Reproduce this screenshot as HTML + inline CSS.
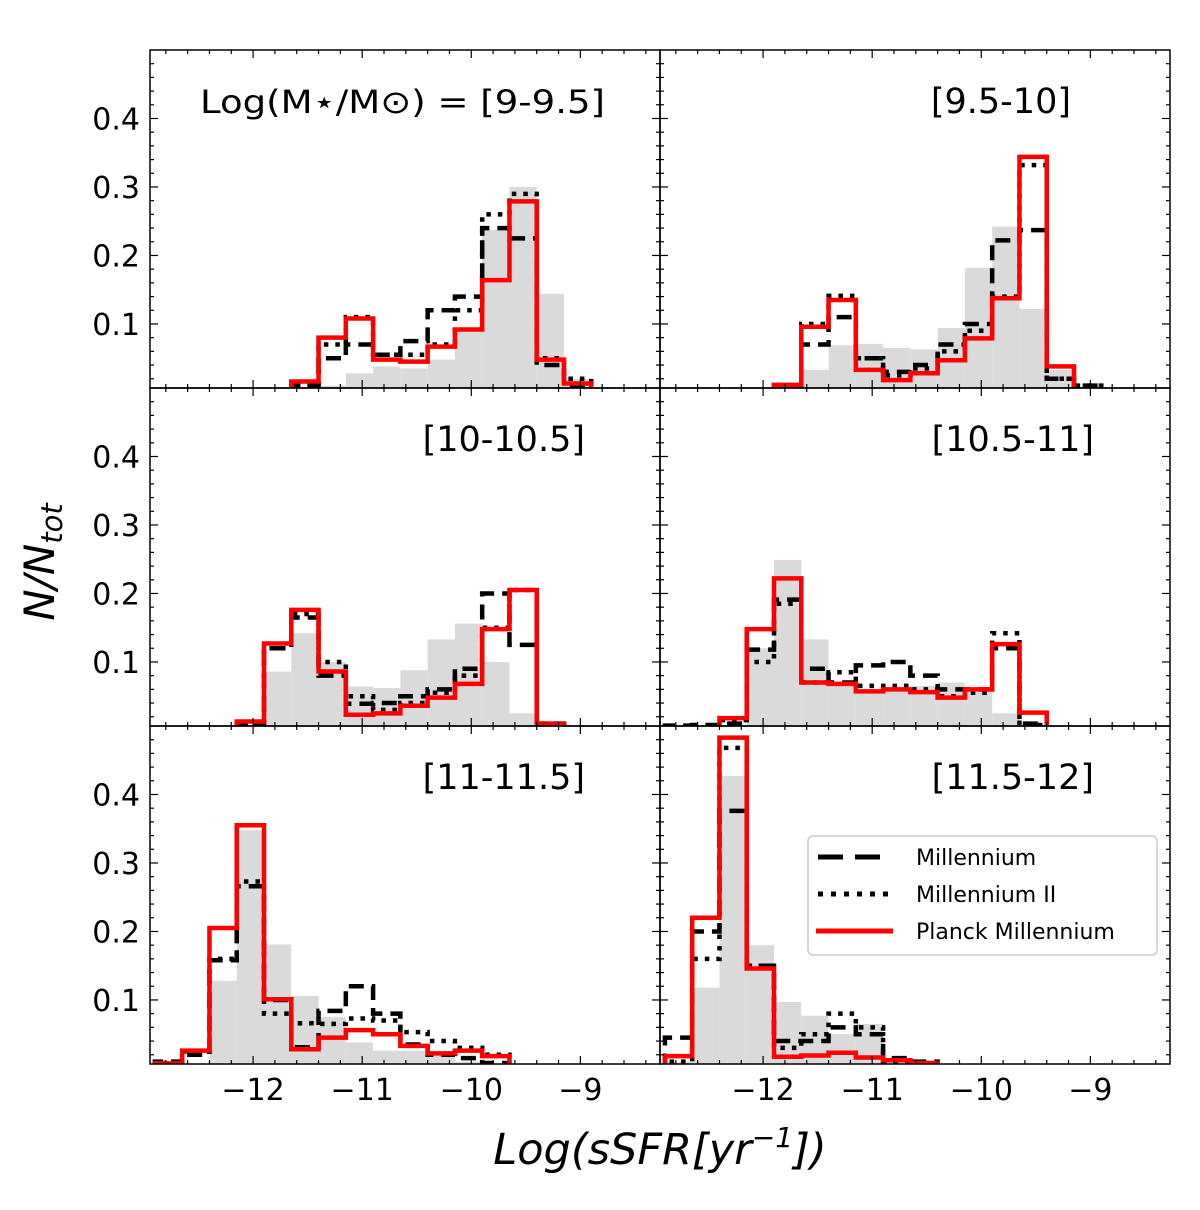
<!DOCTYPE html>
<html><head><meta charset="utf-8"><style>
html,body{margin:0;padding:0;background:#fff;}
svg{display:block;font-family:"DejaVu Sans","Liberation Sans",sans-serif;}
</style></head><body>
<svg id="chart" width="1200" height="1210" viewBox="0 0 1200 1210" xmlns="http://www.w3.org/2000/svg">
<defs id="defs"></defs>
<g id="panels"></g>
<text x="660" y="1164" font-size="43" font-style="italic" text-anchor="middle">Log(sSFR[yr<tspan font-size="28" dy="-17">−1</tspan><tspan dy="17">])</tspan></text>
<text transform="translate(54,562) rotate(-90)" font-size="42" font-style="italic" text-anchor="middle">N/N<tspan font-size="29" dy="8">tot</tspan></text>
<g>
<rect x="808" y="836" width="349" height="119" rx="5" fill="#fff" stroke="#ccc" stroke-width="1.5"/>
<line x1="818" y1="857" x2="890" y2="857" stroke="#000" stroke-width="5" stroke-dasharray="25,12"/>
<text x="916" y="865" font-size="22">Millennium</text>
<line x1="818" y1="894" x2="890" y2="894" stroke="#000" stroke-width="5" stroke-dasharray="5,8"/>
<text x="916" y="902" font-size="22">Millennium II</text>
<line x1="816" y1="931" x2="893" y2="931" stroke="#f00" stroke-width="5"/>
<text x="916" y="939" font-size="22">Planck Millennium</text>
</g>
</svg>
<script>
// bin edges: -12.9 + 0.25*k
const binStart = -12.9;
const binWidth = 0.25;
const panelLabels = ["Log(M⋆/M⊙) = [9-9.5]","[9.5-10]","[10-10.5]","[10.5-11]","[11-11.5]","[11.5-12]"];
const yTickLabels = ["0.1","0.2","0.3","0.4"];
const yTickValues = [0.1,0.2,0.3,0.4];
const xTickValues = [-12,-11,-10,-9];
const xTickLabels = ["−12","−11","−10","−9"];
// each array indexed by bin k = 0..15
const grayTL   = [0,0,0,0,0,0,0.01,0.028,0.038,0.035,0.048,0.09,0.237,0.30,0.144,0.02];
const dashTL   = [0,0,0,0,0,0.01,0.05,0.07,0.055,0.075,0.12,0.14,0.24,0.225,0.04,0.01];
const dotTL    = [0,0,0,0,0,0.01,0.07,0.11,0.055,0.055,0.07,0.12,0.26,0.29,0.05,0.02];
const redTL    = [0,0,0,0,0,0.016,0.08,0.108,0.048,0.045,0.067,0.092,0.164,0.279,0.048,0.013];
const grayTR   = [0,0,0,0,0,0.033,0.069,0.071,0.065,0.063,0.094,0.182,0.242,0.122,0.033,0];
const dashTR   = [0,0,0,0,0.01,0.07,0.11,0.05,0.03,0.04,0.07,0.10,0.222,0.237,0.02,0.01];
const dotTR    = [0,0,0,0,0.01,0.10,0.141,0.05,0.025,0.035,0.06,0.09,0.14,0.332,0.02,0.01];
const redTR    = [0,0,0,0,0.011,0.096,0.135,0.033,0.018,0.028,0.047,0.079,0.1375,0.344,0.038,0];
const grayML   = [0,0,0,0.005,0.086,0.142,0.10,0.064,0.062,0.088,0.133,0.156,0.10,0.025,0,0];
const dashML   = [0,0,0,0.01,0.12,0.165,0.08,0.039,0.04,0.05,0.06,0.09,0.20,0.125,0.01,0];
const dotML    = [0,0,0,0.007,0.12,0.17,0.10,0.05,0.03,0.04,0.055,0.08,0.15,0.205,0.01,0];
const redML    = [0,0,0,0.013,0.127,0.176,0.086,0.023,0.025,0.036,0.048,0.068,0.148,0.205,0.01,0];
const grayMR   = [0,0,0.005,0.12,0.249,0.133,0.067,0.06,0.058,0.065,0.07,0.06,0.025,0.007,0,0];
const dashMR   = [0.007,0.008,0.01,0.118,0.191,0.09,0.07,0.095,0.10,0.08,0.06,0.06,0.12,0.01,0,0];
const dotMR    = [0,0,0.015,0.10,0.185,0.07,0.085,0.065,0.065,0.06,0.05,0.055,0.142,0.008,0,0];
const redMR    = [0,0,0.018,0.148,0.222,0.07,0.068,0.057,0.06,0.056,0.048,0.06,0.126,0.026,0,0];
const grayBL   = [0,0,0.128,0.348,0.181,0.106,0.075,0.038,0.026,0.026,0.019,0.01,0,0,0,0];
const dashBL   = [0.01,0.02,0.158,0.266,0.10,0.031,0.084,0.12,0.08,0.035,0.02,0.015,0.008,0,0,0];
const dotBL    = [0.008,0.025,0.16,0.273,0.08,0.066,0.065,0.073,0.07,0.053,0.04,0.03,0.02,0,0,0];
const redBL    = [0.0075,0.026,0.205,0.355,0.101,0.028,0.045,0.056,0.05,0.033,0.022,0.026,0.018,0,0,0];
const grayBR   = [0.01,0.118,0.427,0.18,0.097,0.077,0.05,0.065,0.01,0.007,0,0,0,0,0,0];
const dashBR   = [0.045,0.20,0.376,0.15,0.04,0.04,0.06,0.05,0.015,0.01,0,0,0,0,0,0];
const dotBR    = [0.01,0.16,0.468,0.15,0.03,0.05,0.08,0.06,0.01,0.007,0,0,0,0,0,0];
const redBR    = [0.018,0.22,0.483,0.146,0.017,0.019,0.023,0.016,0.012,0.008,0,0,0,0,0,0];
const panelSeries = [
  [grayTL,dashTL,dotTL,redTL],[grayTR,dashTR,dotTR,redTR],
  [grayML,dashML,dotML,redML],[grayMR,dashMR,dotMR,redMR],
  [grayBL,dashBL,dotBL,redBL],[grayBR,dashBR,dotBR,redBR]];
const NS = "http://www.w3.org/2000/svg";
const colX = [150,660], rowY = [50,388,726], PW = 510, PH = 338;
const XMIN = -12.945, XMAX = -8.27, YMIN = 0.0065, YMAX = 0.5;
function mk(tag, attrs, parent){const e=document.createElementNS(NS,tag);for(const k in attrs)e.setAttribute(k,attrs[k]);parent.appendChild(e);return e;}
const root = document.getElementById('panels');
const defs = document.getElementById('defs');
for(let p=0;p<6;p++){
  const c=p%2, r=Math.floor(p/2), x0=colX[c], y0=rowY[r];
  const sx = v => x0 + (v-XMIN)/(XMAX-XMIN)*PW;
  const sy = v => y0 + PH - (v-YMIN)/(YMAX-YMIN)*PH;
  const g = mk('g',{},root);
  
  
  const cp = mk('clipPath',{id:'cp'+p},defs);
  mk('rect',{x:x0,y:y0,width:PW,height:PH},cp);
  const plot = mk('g',{'clip-path':'url(#cp'+p+')'},g);
  const [gray,dash,dot,red] = panelSeries[p];
  gray.forEach((v,k)=>{ if(v<=0) return;
    const a=binStart+k*binWidth, b=a+binWidth;
    const rc = mk('rect',{x:sx(a),y:sy(v),width:sx(b)-sx(a),height:sy(0)-sy(v),fill:'#dadada'},plot);
    
    
  });
  const stepPath = arr => {
    let first=arr.findIndex(v=>v>0), last=arr.length-1; while(last>=0&&arr[last]<=0) last--;
    let d='M'+sx(binStart+first*binWidth)+','+sy(0);
    for(let k=first;k<=last;k++){const a=binStart+k*binWidth,b=a+binWidth;d+=' L'+sx(a)+','+sy(arr[k])+' L'+sx(b)+','+sy(arr[k]);}
    d+=' L'+sx(binStart+(last+1)*binWidth)+','+sy(0);
    return d;
  };
  const pd = mk('path',{d:stepPath(dash),fill:'none',stroke:'#000','stroke-width':4.5,'stroke-dasharray':'15,8'},plot);
  
  
  const pt = mk('path',{d:stepPath(dot),fill:'none',stroke:'#000','stroke-width':4.5,'stroke-dasharray':'4.5,7'},plot);
  
  
  const pr = mk('path',{d:stepPath(red),fill:'none',stroke:'#f00','stroke-width':4.5,'stroke-linejoin':'miter'},plot);
  
  
  for(let v=0.02; v<0.5; v+=0.02){
    const major = Math.abs(v*10-Math.round(v*10))<1e-6; const L = major?8:4; const y=sy(v);
    mk('line',{x1:x0,y1:y,x2:x0+L,y2:y,stroke:'#000','stroke-width':1.2},g);
    mk('line',{x1:x0+PW,y1:y,x2:x0+PW-L,y2:y,stroke:'#000','stroke-width':1.2},g);
  }
  for(let i=0;i<=25;i++){
    const v=-12.8+i*0.2; if(v>XMAX) break;
    const major = Math.abs(v-Math.round(v))<1e-6; const L=major?8:4; const x=sx(v);
    mk('line',{x1:x,y1:y0+PH,x2:x,y2:y0+PH-L,stroke:'#000','stroke-width':1.2},g);
    mk('line',{x1:x,y1:y0,x2:x,y2:y0+L,stroke:'#000','stroke-width':1.2},g);
  }
  if(c===0){
    yTickValues.forEach((v,i)=>{
      const t=mk('text',{x:x0-10,y:sy(v)+11,'font-size':30,'text-anchor':'end'},g);
      
      
      t.textContent=yTickLabels[i];
    });
  }
  if(r===2){
    xTickValues.forEach((v,i)=>{
      const t=mk('text',{x:sx(v),y:y0+PH+36,'font-size':30,'text-anchor':'middle'},g);
      
      
      t.textContent=xTickLabels[i];
    });
  }
  const lbl = mk('text',{x:(p===0?605:(c===0?585:1094)),y:y0+63,'font-size':35,'text-anchor':'end'},g);
  
  
  if(p===1){lbl.setAttribute('x',1071);}
  if(p===0){lbl.setAttribute('font-size',32);lbl.setAttribute('textLength',405);lbl.setAttribute('lengthAdjust','spacingAndGlyphs');}
  lbl.textContent=panelLabels[p];
  mk('rect',{x:x0,y:y0,width:PW,height:PH,fill:'none',stroke:'#000','stroke-width':1.5},g);
}
</script>
</body></html>
